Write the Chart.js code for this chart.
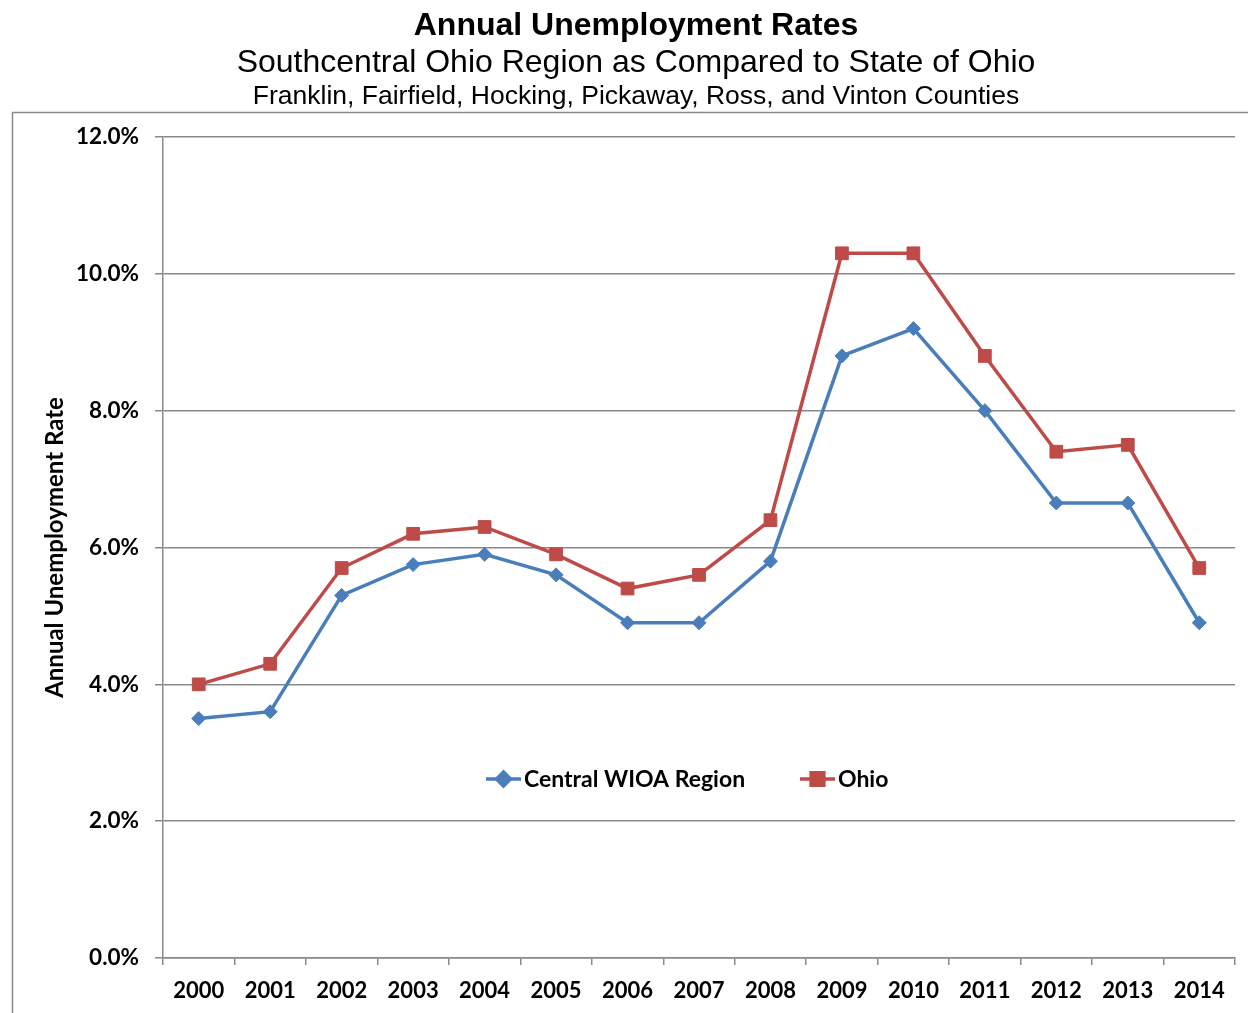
<!DOCTYPE html>
<html>
<head>
<meta charset="utf-8">
<style>
  html, body { margin: 0; padding: 0; background: #fff; }
  #wrap { width: 1248px; height: 1013px; }
</style>
<script src="https://cdn.jsdelivr.net/npm/chart.js@4/dist/chart.umd.min.js"></script>
</head>
<body>
<div id="wrap"><canvas id="myChart" width="1248" height="1013"></canvas></div>
<script>
const years = ["2000", "2001", "2002", "2003", "2004", "2005", "2006", "2007",
  "2008", "2009", "2010", "2011", "2012", "2013", "2014"];
const centralRegion = [3.5, 3.6, 5.3, 5.75, 5.9, 5.6, 4.9, 4.9, 5.8, 8.8, 9.2, 8.0, 6.65, 6.65, 4.9];
const ohio = [4.0, 4.3, 5.7, 6.2, 6.3, 5.9, 5.4, 5.6, 6.4, 10.3, 10.3, 8.8, 7.4, 7.5, 5.7];
const yTicks = [0, 2, 4, 6, 8, 10, 12];

const titleLines = [
  { text: "Annual Unemployment Rates", font: "bold 32px 'Liberation Sans'", y: 26 },
  { text: "Southcentral Ohio Region as Compared to State of Ohio", font: "32px 'Liberation Sans'", y: 63 },
  { text: "Franklin, Fairfield, Hocking, Pickaway, Ross, and Vinton Counties", font: "26.5px 'Liberation Sans'", y: 97 },
];

const BLUE = "#4a7ebb";
const RED = "#be4b48";
const GRID = "#898989";
const LABEL_FONT = "Lato";

// frame + titles
const frame = {
  id: "frame",
  beforeDraw(chart) {
    const ctx = chart.ctx;
    ctx.save();
    ctx.strokeStyle = GRID;
    ctx.lineWidth = 1.5;
    ctx.strokeRect(12.5, 112.5, 1300, 1000);
    ctx.fillStyle = "#000";
    ctx.textAlign = "center";
    ctx.textBaseline = "middle";
    titleLines.forEach(t => {
      ctx.font = t.font;
      ctx.fillText(t.text, 636, t.y);
    });
    ctx.restore();
  }
};

// legend sitting inside the plot
const insideLegend = {
  id: "insideLegend",
  afterDatasetsDraw(chart) {
    const ctx = chart.ctx;
    const items = [
      { ds: chart.data.datasets[0], x: 486 },
      { ds: chart.data.datasets[1], x: 800 },
    ];
    const y = 779;
    ctx.save();
    items.forEach(it => {
      ctx.strokeStyle = it.ds.borderColor;
      ctx.lineWidth = 3.5;
      ctx.beginPath();
      ctx.moveTo(it.x, y);
      ctx.lineTo(it.x + 35, y);
      ctx.stroke();
      ctx.fillStyle = it.ds.pointBackgroundColor;
      ctx.strokeStyle = it.ds.pointBorderColor;
      Chart.helpers.drawPoint(ctx, {
        pointStyle: it.ds.pointStyle,
        radius: it.ds.pointRadius,
        rotation: 0,
        borderWidth: 1
      }, it.x + 17.5, y);
      ctx.fillStyle = "#000";
      ctx.font = "bold 23px " + LABEL_FONT;
      ctx.textAlign = "left";
      ctx.textBaseline = "middle";
      ctx.fillText(it.ds.label, it.x + 38, y + 1);
    });
    ctx.restore();
  }
};

const ctx = document.getElementById("myChart");

const chart = new Chart(ctx, {
  type: "line",
  data: {
    labels: years,
    datasets: [
      {
        label: "Central WIOA Region",
        data: centralRegion,
        borderColor: BLUE,
        borderWidth: 3.5,
        pointStyle: "rectRot",
        pointRadius: 7,
        pointBackgroundColor: BLUE,
        pointBorderColor: BLUE,
        pointBorderWidth: 1,
        tension: 0,
      },
      {
        label: "Ohio",
        data: ohio,
        borderColor: RED,
        borderWidth: 3.5,
        pointStyle: "rect",
        pointRadius: 9,
        pointBackgroundColor: RED,
        pointBorderColor: RED,
        pointBorderWidth: 1,
        tension: 0,
      },
    ],
  },
  options: {
    responsive: false,
    animation: false,
    layout: {
      padding: { top: 137, left: 12, right: 13, bottom: 0 },
    },
    plugins: {
      legend: { display: false },
      title: { display: false },
      tooltip: { enabled: false },
    },
    scales: {
      x: {
        offset: true,
        grid: {
          offset: true,
          drawOnChartArea: false,
          drawTicks: true,
          tickLength: 7,
          color: GRID,
          lineWidth: 1.5,
        },
        border: { color: GRID, width: 1.5 },
        ticks: {
          color: "#000",
          padding: 13,
          maxRotation: 0,
          autoSkip: false,
          font: { family: LABEL_FONT, size: 22, weight: "bold" },
        },
        afterFit(scale) { scale.height = 55; },
      },
      y: {
        min: 0,
        max: 12,
        afterBuildTicks(scale) {
          scale.ticks = yTicks.map(v => ({ value: v }));
        },
        grid: {
          color: GRID,
          lineWidth: 1.5,
          drawTicks: true,
          tickLength: 8,
        },
        border: { color: GRID, width: 1.5 },
        ticks: {
          color: "#000",
          padding: 16,
          font: { family: LABEL_FONT, size: 22.5, weight: "bold" },
          callback: (v) => Number(v).toFixed(1) + "%",
        },
        title: {
          display: true,
          text: "Annual Unemployment Rate",
          color: "#000",
          font: { family: LABEL_FONT, size: 24, weight: "bold" },
          padding: { top: 29, bottom: 0 },
        },
        afterFit(scale) { scale.width = 151; },
      },
    },
  },
  plugins: [frame, insideLegend],
});
</script>
</body>
</html>
